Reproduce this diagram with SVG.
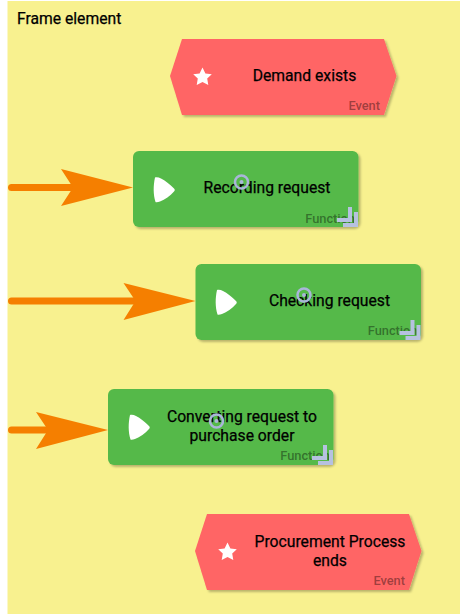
<svg xmlns="http://www.w3.org/2000/svg" width="460" height="614" viewBox="0 0 460 614">
<defs>
<filter id="sh" x="-5%" y="-5%" width="112%" height="115%"><feDropShadow dx="2" dy="2" stdDeviation="1.2" flood-color="#000" flood-opacity="0.25"/></filter>
<polygon id="evt" points="12,0 214,0 226.500,37 214,76 12,76 0,37"/>
<path id="star" d="M0,-9.500 L2.900,-3.600 9.300,-2.800 4.700,1.600 5.800,7.900 0,4.900 -5.800,7.900 -4.700,1.600 -9.300,-2.800 -2.900,-3.600Z"/>
<path id="play" d="M1,-12 C3,-12.500 5,-12 7,-11 C11,-9 16,-5 20,-1 C21,0 21,1 20,2 C16,6.500 11,10 6,12 C4,12.800 2,13 1.500,12.500 C-0.800,5 -0.800,-4 1,-12Z"/>
<g id="adorn"><path d="M-18,-4H-5V-17" class="ov"/><path d="M-12,1H1V-12" class="ov"/></g>
</defs>
<style>
text{font-family:Roboto,"Liberation Sans",sans-serif}
.lab{font-size:15.700px;fill:#000;stroke:#000;stroke-width:.25px;text-anchor:middle}
.typ{font-size:12.800px;font-weight:500;fill:#000;fill-opacity:.4;text-anchor:end}
.ev{fill:#ff6565;filter:url(#sh)}
.fn{fill:#54b948;filter:url(#sh)}
.ov{fill:none;stroke:#b6c1e0;stroke-width:4}
.ring{fill:none;stroke:#a9b6d9;stroke-width:2.500}
.dot{fill:#a9b6d9}
.line{stroke:#f57f00;stroke-width:7;stroke-linecap:round;fill:none}
.head{fill:#f57f00}
</style>
<rect id="frame" x="7.500" y="1" width="452.500" height="613" fill="#f8f18f"/>
<text x="17" y="23.500" font-size="15.700" fill="#000" stroke="#000" stroke-width=".25">Frame element</text>
<g id="connectors">
<path class="line" d="M11.500,187.500H78"/><polygon class="head" points="133,187.500 61,169 73,187.500 61,206"/>
<path class="line" d="M11.500,301H140"/><polygon class="head" points="195.500,301 123.500,283 135.500,301 123.500,320"/>
<path class="line" d="M11.500,430H50"/><polygon class="head" points="108,430 36,412 48,430 36,449"/>
</g>
<g id="event-demand" transform="translate(170,39)">
<use href="#evt" class="ev"/><use href="#star" x="32.500" y="38" fill="#fff"/>
<text class="lab" x="134.500" y="41.500">Demand exists</text><text class="typ" x="210" y="70.500">Event</text>
</g>
<g id="function-recording" transform="translate(133,151)">
<rect class="fn" width="225.500" height="76" rx="6"/><use href="#play" x="21" y="38.500" fill="#fff"/>
<text class="lab" x="134" y="42">Recording request</text><text class="typ" x="222" y="72">Function</text>
<circle class="ring" cx="108.500" cy="31" r="6.500"/><circle class="dot" cx="108.500" cy="31" r="2"/>
<use href="#adorn" x="222" y="73"/>
</g>
<g id="function-checking" transform="translate(195.500,264)">
<rect class="fn" width="225.500" height="76" rx="6"/><use href="#play" x="20.500" y="38" fill="#fff"/>
<text class="lab" x="134" y="42">Checking request</text><text class="typ" x="222" y="71">Function</text>
<circle class="ring" cx="108.500" cy="31" r="6.500"/><circle class="dot" cx="108.500" cy="31" r="2"/>
<use href="#adorn" x="222" y="73"/>
</g>
<g id="function-converting" transform="translate(108,389)">
<rect class="fn" width="225.500" height="76" rx="6"/><use href="#play" x="21" y="38" fill="#fff"/>
<text class="lab" x="134" y="33">Converting request to</text><text class="lab" x="134" y="52">purchase order</text><text class="typ" x="222" y="71">Function</text>
<circle class="ring" cx="108.500" cy="32" r="6.500"/><circle class="dot" cx="108.500" cy="32" r="2"/>
<use href="#adorn" x="222" y="73"/>
</g>
<g id="event-procurement" transform="translate(195,514)">
<use href="#evt" class="ev"/><use href="#star" x="32.500" y="38" fill="#fff"/>
<text class="lab" x="135" y="33">Procurement Process</text><text class="lab" x="135" y="52">ends</text><text class="typ" x="210" y="70.500">Event</text>
</g>
</svg>
